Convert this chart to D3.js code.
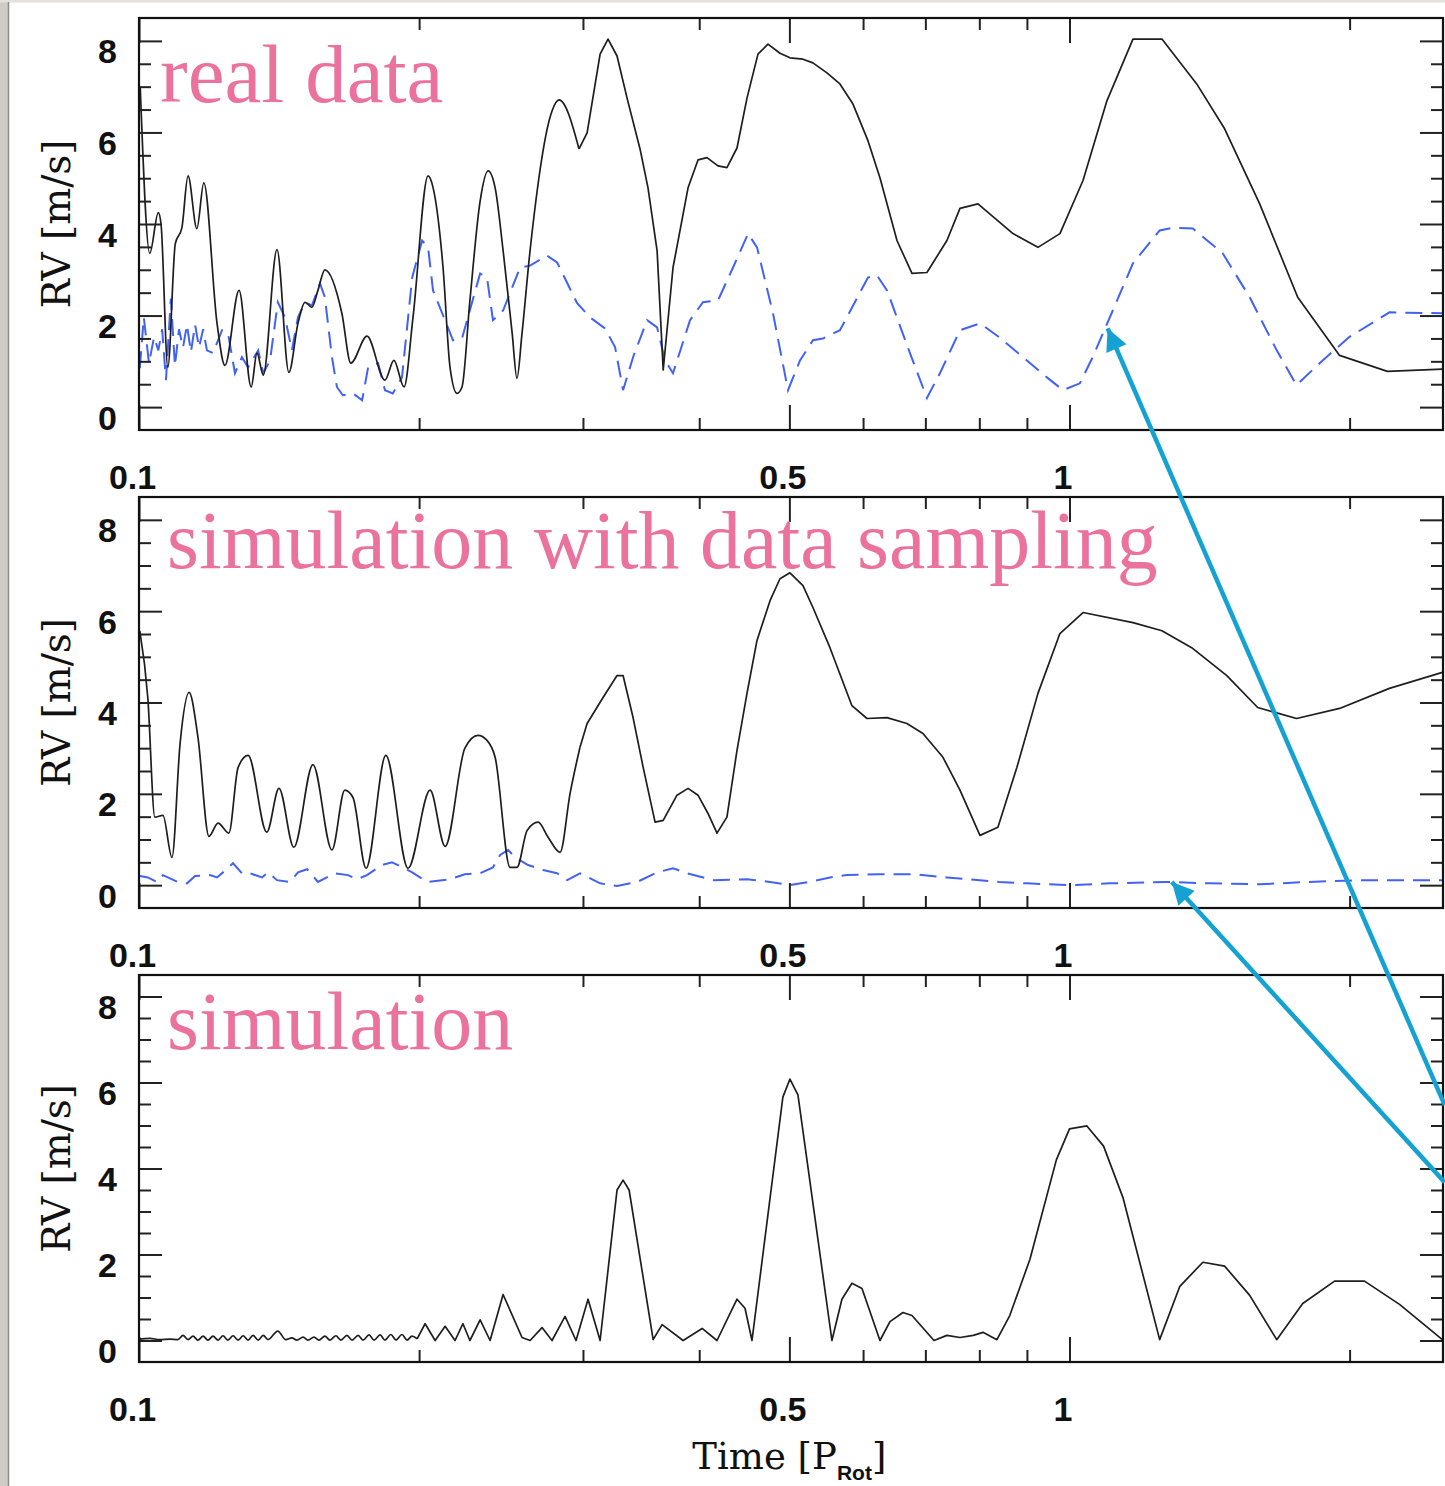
<!DOCTYPE html>
<html>
<head>
<meta charset="utf-8">
<script src="https://cdn.jsdelivr.net/npm/d3@7"></script>
<style>
  body { margin:0; background:#fff; }
  svg { display:block; }
</style>
</head>
<body>
<svg></svg>
<script>
// time in units of P_Rot, RV in m/s
var realSolid = [[0.1003,7.0],[0.1027,3.36],[0.1049,4.25],[0.1056,4.0],[0.1074,0.87],[0.1094,3.57],[0.1112,3.92],[0.1129,5.05],[0.1154,3.9],[0.1174,4.9],[0.1213,1.83],[0.1237,0.91],[0.1281,2.55],[0.1320,0.44],[0.1339,1.18],[0.1360,0.70],[0.1407,3.44],[0.1449,0.76],[0.1482,1.83],[0.1508,2.29],[0.1534,2.18],[0.1557,2.55],[0.1584,3.0],[0.1652,2.05],[0.1689,0.96],[0.1758,1.55],[0.1838,0.59],[0.1879,1.02],[0.1927,0.44],[0.1970,1.96],[0.2045,5.05],[0.2070,4.8],[0.2122,3.05],[0.2159,0.87],[0.2197,0.3],[0.2224,0.44],[0.2268,2.33],[0.2326,4.5],[0.2372,5.16],[0.2414,4.79],[0.2462,3.42],[0.2518,1.61],[0.2548,0.63],[0.2580,1.61],[0.2632,3.42],[0.2779,6.47],[0.2828,6.71],[0.2971,5.64],[0.3031,5.99],[0.3130,7.71],[0.3192,8.04],[0.3264,7.67],[0.3346,6.75],[0.3455,5.64],[0.3524,4.79],[0.3604,3.42],[0.3659,0.81],[0.3749,3.05],[0.3891,4.79],[0.3988,5.40],[0.4078,5.45],[0.4190,5.27],[0.4284,5.23],[0.4392,5.66],[0.4502,6.75],[0.4626,7.71],[0.4742,7.93],[0.4885,7.73],[0.5007,7.63],[0.5171,7.60],[0.5300,7.52],[0.5487,7.30],[0.5666,7.06],[0.5852,6.62],[0.6073,5.82],[0.6256,5.01],[0.6525,3.64],[0.6772,2.92],[0.7027,2.94],[0.7384,3.64],[0.7626,4.34],[0.7973,4.44],[0.8695,3.79],[0.9249,3.49],[0.9766,3.79],[1.034,4.95],[1.097,6.69],[1.170,8.04],[1.257,8.04],[1.370,7.06],[1.468,6.08],[1.601,4.44],[1.759,2.40],[1.951,1.13],[2.196,0.78],[2.516,0.83]]

var realDashed = [[0.1002,0.85],[0.1012,1.96],[0.1025,0.96],[0.1038,1.53],[0.1049,1.24],[0.1059,1.7],[0.1069,0.59],[0.1082,2.37],[0.1093,0.9],[0.1104,1.7],[0.1115,1.3],[0.1126,1.8],[0.1137,1.2],[0.1149,1.8],[0.1160,1.3],[0.1172,1.7],[0.1183,1.24],[0.1201,1.18],[0.1228,1.68],[0.1246,1.63],[0.1268,0.74],[0.1290,1.09],[0.1310,0.87],[0.1343,1.24],[0.1360,0.74],[0.1383,1.02],[0.1410,2.29],[0.1435,1.96],[0.1460,1.24],[0.1482,1.96],[0.1508,2.29],[0.1534,2.22],[0.1565,2.70],[0.1584,2.40],[0.1612,1.09],[0.1632,0.44],[0.1656,0.26],[0.1698,0.30],[0.1737,0.15],[0.1763,0.87],[0.1807,0.96],[0.1838,0.37],[0.1874,0.30],[0.1917,0.65],[0.1966,2.83],[0.2015,3.64],[0.2045,3.49],[0.2070,2.55],[0.2175,1.46],[0.2224,1.5],[0.2326,2.92],[0.2366,2.83],[0.2401,1.90],[0.2462,2.11],[0.2568,3.05],[0.2632,3.09],[0.2745,3.31],[0.2814,3.16],[0.2957,2.27],[0.3053,1.96],[0.3168,1.72],[0.3248,1.31],[0.3313,0.37],[0.3396,1.09],[0.3516,1.90],[0.3604,1.74],[0.3676,1.02],[0.3749,0.74],[0.3910,1.90],[0.4037,2.29],[0.4190,2.33],[0.4349,3.05],[0.4514,3.79],[0.4615,3.49],[0.4801,2.05],[0.4983,0.37],[0.5133,1.02],[0.5300,1.46],[0.5433,1.50],[0.5666,1.68],[0.6073,2.83],[0.6209,2.88],[0.6366,2.55],[0.6738,1.18],[0.7027,0.2],[0.7257,0.74],[0.7626,1.68],[0.8013,1.83],[0.8398,1.53],[0.9000,1.02],[0.9456,0.65],[0.9840,0.37],[1.026,0.52],[1.059,1.09],[1.113,2.11],[1.170,3.14],[1.250,3.86],[1.292,3.92],[1.357,3.90],[1.461,3.36],[1.562,2.40],[1.670,1.24],[1.754,0.48],[1.857,0.96],[1.998,1.53],[2.207,2.07],[2.516,2.05]]

var sampledSolid = [[0.1002,5.57],[0.1022,4.11],[0.1040,1.49],[0.1061,1.53],[0.1085,0.61],[0.1107,3.10],[0.1132,4.22],[0.1157,3.24],[0.1189,1.07],[0.1216,1.36],[0.1249,1.14],[0.1278,2.58],[0.1310,2.84],[0.1372,1.16],[0.1414,2.12],[0.1467,0.83],[0.1538,2.64],[0.1612,0.77],[0.1664,2.08],[0.1698,1.92],[0.1754,0.37],[0.1842,2.84],[0.1946,0.37],[0.2055,2.08],[0.2133,0.85],[0.2240,3.0],[0.2314,3.28],[0.2366,3.17],[0.2414,2.80],[0.2505,0.39],[0.2548,0.39],[0.2613,1.20],[0.2685,1.38],[0.2752,1.05],[0.2835,0.72],[0.2906,2.01],[0.2978,3.02],[0.3031,3.54],[0.3153,4.11],[0.3264,4.59],[0.3313,4.59],[0.3396,3.67],[0.3482,2.58],[0.3586,1.38],[0.3659,1.42],[0.3786,1.97],[0.3891,2.12],[0.3988,1.97],[0.4088,1.57],[0.4180,1.14],[0.4284,1.49],[0.4392,2.95],[0.4502,4.20],[0.4615,5.36],[0.4766,6.23],[0.4885,6.71],[0.5007,6.84],[0.5171,6.56],[0.5300,6.08],[0.5528,5.20],[0.5837,3.93],[0.6058,3.65],[0.6365,3.67],[0.6688,3.54],[0.6958,3.32],[0.7312,2.80],[0.7626,2.08],[0.8013,1.09],[0.8377,1.27],[0.8780,2.58],[0.9249,4.20],[0.9766,5.51],[1.034,5.97],[1.170,5.75],[1.257,5.57],[1.353,5.20],[1.476,4.59],[1.593,3.89],[1.754,3.65],[1.951,3.87],[2.207,4.31],[2.516,4.66]]

var sampledDashed = [[0.1002,0.2],[0.1022,0.17],[0.1046,0.07],[0.1061,0.22],[0.1101,0.07],[0.1126,0.04],[0.1149,0.20],[0.1192,0.22],[0.1213,0.17],[0.1231,0.28],[0.1262,0.48],[0.1290,0.26],[0.1307,0.28],[0.1356,0.17],[0.1376,0.28],[0.1407,0.11],[0.1453,0.07],[0.1482,0.28],[0.1516,0.35],[0.1557,0.07],[0.1624,0.26],[0.1677,0.22],[0.1715,0.13],[0.1758,0.22],[0.1824,0.44],[0.1870,0.50],[0.1898,0.44],[0.1966,0.28],[0.2040,0.07],[0.2159,0.13],[0.2240,0.24],[0.2326,0.26],[0.2401,0.39],[0.2444,0.66],[0.2493,0.77],[0.2536,0.61],[0.2619,0.44],[0.2718,0.33],[0.2814,0.26],[0.2885,0.11],[0.2978,0.26],[0.3130,0.04],[0.3264,-0.02],[0.3430,0.07],[0.3604,0.28],[0.3749,0.37],[0.3881,0.26],[0.4149,0.11],[0.4502,0.13],[0.4766,0.07],[0.5007,0.0],[0.5248,0.07],[0.5528,0.17],[0.5764,0.22],[0.6240,0.24],[0.6787,0.24],[0.7384,0.17],[0.8398,0.07],[0.9000,0.04],[1.000,0.0],[1.105,0.04],[1.272,0.07],[1.414,0.04],[1.601,0.02],[1.807,0.07],[2.050,0.11],[2.516,0.11]]

var simSolid = [[0.1000,0.03],[0.1027,0.05],[0.1053,0.02],[0.1080,0.03],[0.1101,0.02],[0.1115,0.12],[0.1129,0.02],[0.1143,0.10],[0.1157,0.01],[0.1172,0.10],[0.1186,0.01],[0.1201,0.10],[0.1216,0.01],[0.1231,0.11],[0.1246,0.01],[0.1262,0.11],[0.1278,0.01],[0.1294,0.11],[0.1310,0.01],[0.1326,0.12],[0.1343,0.01],[0.1360,0.12],[0.1376,0.02],[0.1410,0.22],[0.1438,0.02],[0.1460,0.06],[0.1478,0.01],[0.1501,0.08],[0.1519,0.01],[0.1542,0.08],[0.1561,0.01],[0.1584,0.10],[0.1604,0.01],[0.1628,0.11],[0.1648,0.01],[0.1673,0.12],[0.1694,0.01],[0.1720,0.12],[0.1741,0.01],[0.1767,0.13],[0.1789,0.01],[0.1816,0.13],[0.1838,0.01],[0.1865,0.14],[0.1889,0.01],[0.1917,0.14],[0.1941,0.01],[0.1965,0.10],[0.1990,0.04],[0.2030,0.39],[0.2081,0.0],[0.2133,0.33],[0.2186,0.0],[0.2229,0.39],[0.2268,0.0],[0.2326,0.48],[0.2384,0.0],[0.2462,1.07],[0.2580,0.07],[0.2632,0.0],[0.2711,0.30],[0.2779,0.0],[0.2870,0.56],[0.2949,0.0],[0.3038,0.96],[0.3130,0.0],[0.3264,3.5],[0.3313,3.73],[0.3363,3.5],[0.3569,0.02],[0.3649,0.37],[0.3844,0.0],[0.4029,0.28],[0.4180,0.0],[0.4392,0.96],[0.4480,0.75],[0.4558,0.0],[0.4920,5.66],[0.5007,6.08],[0.5107,5.71],[0.5555,0.0],[0.5694,0.96],[0.5837,1.33],[0.5984,1.21],[0.6256,0.0],[0.6413,0.44],[0.6622,0.65],[0.6772,0.58],[0.7151,0.0],[0.7384,0.12],[0.7626,0.07],[0.7881,0.12],[0.8073,0.19],[0.8356,0.02],[0.8626,0.58],[0.9068,1.89],[0.9680,4.2],[1.000,4.92],[1.044,4.99],[1.088,4.52],[1.142,3.31],[1.250,0.02],[1.314,1.26],[1.391,1.82],[1.468,1.73],[1.562,1.05],[1.670,0.02],[1.781,0.86],[1.927,1.38],[2.075,1.38],[2.263,0.84],[2.516,0.02]]

var panelTitles = ["real data", "simulation with data sampling", "simulation"]
var xMajorTicks = [0.1, 0.5, 1]
var xTickLabels = ["0.1", "0.5", "1"]
var xMinorTicks = [0.2, 0.3, 0.4, 0.6, 0.7, 0.8, 0.9, 2]
var yMajorTicks = [0, 2, 4, 6, 8]
var yMinorTicks = [0.5, 1, 1.5, 2.5, 3, 3.5, 4.5, 5, 5.5, 6.5, 7, 7.5]
// arrows: [tail time, tail RV, tail panel, tip time, tip RV, tip panel]
var arrows = [[2.53, 5.48, 2, 1.099, 1.72, 0], [2.53, 3.68, 2, 1.288, 0.07, 1]]

var screen = {width:1445, height:1486}
var plotLeft = 139, plotRight = 1443
var panelBoxes = [{top:18, bottom:430, titleY:102}, {top:497, bottom:908, titleY:568}, {top:975, bottom:1362, titleY:1049}]
var panelSeries = [[realSolid, realDashed], [sampledSolid, sampledDashed], [simSolid, null]]
// densely sampled part is drawn smooth, the sparse part straight
var smoothUpTo = [0.3, 0.3, 0.2]

var svg = d3.select("svg")
    .attr("width", screen.width)
    .attr("height", screen.height)

// grey frame on the left edge of the screenshot
svg.append("rect").attr("x",0).attr("y",0).attr("width",9).attr("height",screen.height).attr("fill","#cfccc6")
svg.append("rect").attr("x",0).attr("y",0).attr("width",screen.width).attr("height",2.5).attr("fill","#e4e2dc")
svg.append("line").attr("x1",8.5).attr("x2",8.5).attr("y1",2).attr("y2",screen.height).attr("stroke","#8c8c8c").attr("stroke-width",1.5)

var xScale = d3.scaleLog()
    .domain([0.1, 2.52])
    .range([plotLeft, plotRight])

var yScales = []

var tickFont = "'Liberation Sans', Arial, Helvetica, sans-serif"
var serifFont = "'DejaVu Serif', 'Century Schoolbook', serif"

var styleAxis = function(g)
{
    g.select(".domain").remove()
    g.selectAll(".tick line").attr("stroke","#222").attr("stroke-width",2)
    g.selectAll("text")
        .attr("fill","#111")
        .style("font-family", tickFont)
        .style("font-size","34px")
        .style("font-weight","bold")
}

var drawPanel = function(box, i)
{
    var yScale = d3.scaleLinear()
        .domain([-0.5, 8.5])
        .range([box.bottom, box.top])
    yScales.push(yScale)

    var g = svg.append("g").attr("id","panel"+i)

    svg.append("clipPath").attr("id","clip"+i)
        .append("rect")
        .attr("x", plotLeft).attr("y", box.top)
        .attr("width", plotRight-plotLeft).attr("height", box.bottom-box.top)

    var line = d3.line()
        .x(function(d){ return xScale(d[0]) })
        .y(function(d){ return yScale(d[1]) })
    var smoothLine = d3.line()
        .x(function(d){ return xScale(d[0]) })
        .y(function(d){ return yScale(d[1]) })
        .curve(d3.curveMonotoneX)

    var series = panelSeries[i]
    if (series[1])
    {
        g.append("path")
            .datum(series[1])
            .attr("clip-path","url(#clip"+i+")")
            .attr("d", line)
            .attr("fill","none")
            .attr("stroke","#4262f5")
            .attr("stroke-width",2)
            .attr("stroke-dasharray","17,9")
    }
    var cut = smoothUpTo[i]
    var head = series[0].filter(function(d){ return d[0] <= cut })
    var tail = series[0].slice(head.length - 1)
    g.append("path")
        .datum(head)
        .attr("clip-path","url(#clip"+i+")")
        .attr("d", smoothLine)
        .attr("fill","none")
        .attr("stroke","#1e1e1e")
        .attr("stroke-width",1.7)
    g.append("path")
        .datum(tail)
        .attr("clip-path","url(#clip"+i+")")
        .attr("d", line)
        .attr("fill","none")
        .attr("stroke","#1e1e1e")
        .attr("stroke-width",1.7)
        .attr("stroke-linejoin","round")

    // bottom axis with labels, ticks pointing inward
    g.append("g")
        .attr("transform","translate(0,"+box.bottom+")")
        .call(d3.axisBottom(xScale).tickValues(xMajorTicks).tickSize(-25).tickPadding(35)
            .tickFormat(function(d,k){ return xTickLabels[k] }))
        .call(styleAxis)
        .selectAll("text").attr("dx","-7")
    g.append("g")
        .attr("transform","translate(0,"+box.bottom+")")
        .call(d3.axisBottom(xScale).tickValues(xMinorTicks).tickSize(-12).tickFormat(""))
        .call(styleAxis)
    // top axis
    g.append("g")
        .attr("transform","translate(0,"+box.top+")")
        .call(d3.axisTop(xScale).tickValues(xMajorTicks).tickSize(-25).tickFormat(""))
        .call(styleAxis)
    g.append("g")
        .attr("transform","translate(0,"+box.top+")")
        .call(d3.axisTop(xScale).tickValues(xMinorTicks).tickSize(-12).tickFormat(""))
        .call(styleAxis)
    // left axis
    g.append("g")
        .attr("transform","translate("+plotLeft+",0)")
        .call(d3.axisLeft(yScale).tickValues(yMajorTicks).tickSize(-23).tickPadding(22).tickFormat(d3.format("d")))
        .call(styleAxis)
        .selectAll("text").attr("dy","22")
    g.append("g")
        .attr("transform","translate("+plotLeft+",0)")
        .call(d3.axisLeft(yScale).tickValues(yMinorTicks).tickSize(-12).tickFormat(""))
        .call(styleAxis)
    // right axis
    g.append("g")
        .attr("transform","translate("+plotRight+",0)")
        .call(d3.axisRight(yScale).tickValues(yMajorTicks).tickSize(-23).tickFormat(""))
        .call(styleAxis)
    g.append("g")
        .attr("transform","translate("+plotRight+",0)")
        .call(d3.axisRight(yScale).tickValues(yMinorTicks).tickSize(-12).tickFormat(""))
        .call(styleAxis)

    // frame
    g.append("rect")
        .attr("x", plotLeft).attr("y", box.top)
        .attr("width", plotRight-plotLeft).attr("height", box.bottom-box.top)
        .attr("fill","none").attr("stroke","#111").attr("stroke-width",2.2)

    // y title
    g.append("text")
        .attr("transform","translate(70,"+((box.top+box.bottom)/2)+") rotate(-90)")
        .attr("text-anchor","middle")
        .style("font-family", serifFont)
        .style("font-size","39px")
        .attr("fill","#111")
        .text("RV [m/s]")

    // pink panel title
    g.append("text")
        .attr("x", i==0 ? 160 : 167)
        .attr("y", box.titleY)
        .style("font-family","'Liberation Serif', 'Times New Roman', serif")
        .style("font-size", i==0 ? "83px" : "82px")
        .attr("fill","#ea729d")
        .text(panelTitles[i])
}

panelBoxes.forEach(drawPanel)

// x title
var xt = svg.append("text")
    .attr("x", (xScale(0.5)))
    .attr("y", 1469)
    .attr("text-anchor","middle")
    .style("font-family", serifFont)
    .style("font-size","37px")
    .attr("fill","#111")
xt.append("tspan").text("Time [P")
xt.append("tspan").attr("dy",11)
    .style("font-family", tickFont).style("font-weight","bold").style("font-size","21px")
    .text("Rot")
xt.append("tspan").attr("dy",-11).text("]")

// arrows
var defs = svg.append("defs")
defs.append("marker")
    .attr("id","head")
    .attr("viewBox","0 0 10 10")
    .attr("refX",10).attr("refY",5)
    .attr("markerUnits","userSpaceOnUse")
    .attr("markerWidth",26).attr("markerHeight",22)
    .attr("orient","auto")
    .append("path").attr("d","M0,0 L10,5 L0,10 z").attr("fill","#14a2d3")

arrows.forEach(function(a)
{
    var x1 = xScale(a[0]), y1 = yScales[a[2]](a[1])
    var x2 = xScale(a[3]), y2 = yScales[a[5]](a[4])
    svg.append("line")
        .attr("x1",x1).attr("y1",y1).attr("x2",x2).attr("y2",y2)
        .attr("stroke","#14a2d3").attr("stroke-width",4.5)
        .attr("marker-end","url(#head)")
})
</script>
</body>
</html>
